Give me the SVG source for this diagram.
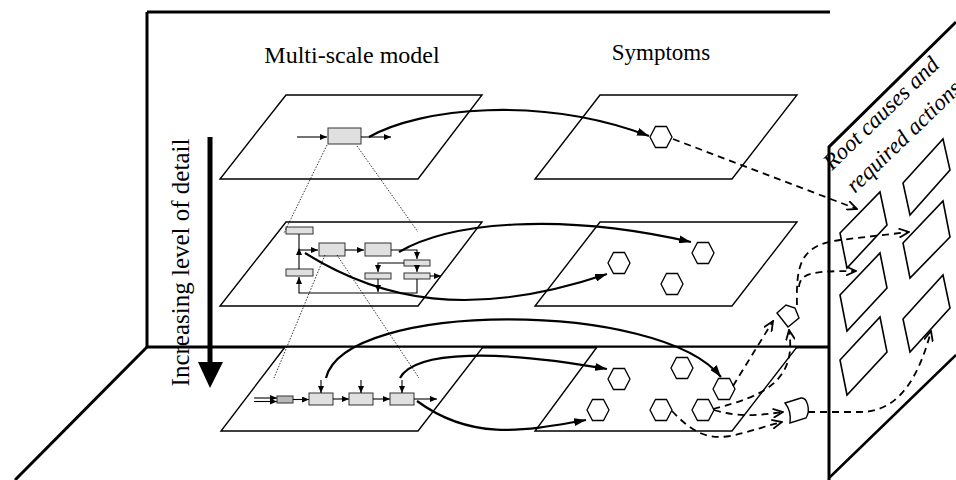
<svg xmlns="http://www.w3.org/2000/svg" width="956" height="480" viewBox="0 0 956 480">
<style>
.wall{fill:none;stroke:#000;stroke-width:3}
.plane{fill:#fff;stroke:#000;stroke-width:1.4}
.thk{fill:none;stroke:#000;stroke-width:2.2;marker-end:url(#ah)}
.ln{fill:none;stroke:#000;stroke-width:1.1}
.la{fill:none;stroke:#000;stroke-width:1.1;marker-end:url(#sa)}
.dot{fill:none;stroke:#000;stroke-width:0.8;stroke-dasharray:1.5,1.5}
.dsh{fill:none;stroke:#000;stroke-width:1.8;stroke-dasharray:7,5;marker-end:url(#oa)}
.box{fill:#e0e0e0;stroke:#333;stroke-width:1}
.box2{fill:#b8b8b8;stroke:#333;stroke-width:1}
.hex{fill:#fff;stroke:#000;stroke-width:1.3}
.rb{fill:#fff;stroke:#000;stroke-width:1.6}
.gate{fill:#fff;stroke:#000;stroke-width:1.4}
.t{font-family:"Liberation Serif","Times New Roman",serif;fill:#000}
</style>
<defs>
<marker id="ah" viewBox="0 0 12 8" refX="12" refY="4" markerWidth="12" markerHeight="8" markerUnits="userSpaceOnUse" orient="auto"><path d="M0,0 L12,4 L0,8 z" fill="#000"/></marker>
<marker id="sa" viewBox="0 0 7 6" refX="7" refY="3" markerWidth="7" markerHeight="6" markerUnits="userSpaceOnUse" orient="auto"><path d="M0,0 L7,3 L0,6 z" fill="#000"/></marker>
<marker id="oa" viewBox="0 0 12 10" refX="11" refY="5" markerWidth="12" markerHeight="10" markerUnits="userSpaceOnUse" orient="auto"><path d="M1,0.5 L11,5 L1,9.5" fill="none" stroke="#000" stroke-width="1.8"/></marker>
<path id="hx" d="M-11,0 L-5.5,-10.5 L5.5,-10.5 L11,0 L5.5,10.5 L-5.5,10.5 Z"/>
</defs>

<g id="frame">
<path class="wall" d="M147,12 L830,12"/>
<path class="wall" d="M147,12 L147,347 L829,347"/>
<path class="wall" d="M147,347 L15,480"/>
</g>

<g id="titles">
<text class="t" x="352" y="63" font-size="24" text-anchor="middle">Multi-scale model</text>
<text class="t" x="661" y="60" font-size="23" text-anchor="middle">Symptoms</text>
<text class="t" transform="translate(189,262.5) rotate(-90)" font-size="25" text-anchor="middle">Increasing level of detail</text>
</g>

<g id="detail-arrow">
<path d="M210,137 L210,364" stroke="#000" stroke-width="5"/>
<path d="M198,362 L223,362 L210,388 Z" fill="#000"/>
</g>

<g id="plane-model-top">
<path class="plane" d="M286,95 L482,95 L418,179 L220,179 Z"/>
<path class="la" d="M297,137 L327,137"/>
<rect class="box" x="328" y="128" width="33" height="16"/>
<path class="la" d="M361,137 L391,137"/>
</g>

<g id="plane-symptoms-top">
<path class="plane" d="M600,95 L797,95 L732,179 L535,179 Z"/>
<use href="#hx" class="hex" x="661" y="137"/>
</g>

<g id="plane-model-mid">
<path class="plane" d="M286,222 L482,222 L418,306 L220,306 Z"/>
<rect class="box" x="286" y="227" width="27" height="7"/>
<rect class="box" x="319" y="243" width="26" height="13"/>
<rect class="box" x="365" y="243" width="26" height="13"/>
<rect class="box" x="404" y="260" width="26" height="6"/>
<rect class="box" x="286" y="269" width="27" height="7"/>
<rect class="box" x="365" y="273" width="26" height="6"/>
<rect class="box" x="404" y="273" width="26" height="6"/>
<path class="la" d="M299,269 L299,248"/>
<path class="ln" d="M299,248 L299,234"/>
<path class="la" d="M299,250 L318,250"/>
<path class="la" d="M345,250 L364,250"/>
<path class="la" d="M391,250 L417,250 L417,259"/>
<path class="la" d="M417,266 L417,272"/>
<path class="la" d="M404,263 L378,263 L378,272"/>
<path class="la" d="M378,279 L378,292"/>
<path class="la" d="M417,279 L417,293 L299,293 L299,277"/>
<path class="la" d="M430,276 L441,276"/>
</g>

<g id="plane-symptoms-mid">
<path class="plane" d="M600,222 L797,222 L732,306 L535,306 Z"/>
<use href="#hx" class="hex" x="703" y="253"/>
<use href="#hx" class="hex" x="619" y="263"/>
<use href="#hx" class="hex" x="672" y="284"/>
</g>

<g id="plane-model-bottom">
<path class="plane" d="M285,347 L483,347 L418,431 L221,431 Z"/>
<path class="la" d="M254,398 L277,398"/>
<path class="la" d="M254,401.5 L277,401.5"/>
<rect class="box2" x="277" y="396" width="16" height="7"/>
<path class="la" d="M293,399.5 L309,399.5"/>
<rect class="box" x="309" y="393" width="24" height="12"/>
<path class="la" d="M333,399 L349,399"/>
<rect class="box" x="349" y="393" width="24" height="12"/>
<path class="la" d="M373,399 L390,399"/>
<rect class="box" x="390" y="393" width="24" height="12"/>
<path class="la" d="M414,399 L437,399"/>
<path class="la" d="M321,380 L321,393"/>
<path class="la" d="M361,380 L361,393"/>
<path class="la" d="M402,380 L402,393"/>
</g>

<g id="plane-symptoms-bottom">
<path class="plane" d="M597,347 L797,347 L732,431 L535,431 Z"/>
<use href="#hx" class="hex" x="619" y="379"/>
<use href="#hx" class="hex" x="682" y="368"/>
<use href="#hx" class="hex" x="724" y="389"/>
<use href="#hx" class="hex" x="598" y="410"/>
<use href="#hx" class="hex" x="661" y="410"/>
<use href="#hx" class="hex" x="703" y="410"/>
</g>

<g id="panel">
<path d="M829,147 L956,22 L956,355 L829,478 Z" fill="#fff" stroke="none"/>
<path class="wall" d="M829,480 L829,147 L956,22"/>
<path d="M829,478 L956,355" fill="none" stroke="#000" stroke-width="2.5"/>
<text class="t" transform="translate(832,171) rotate(-44)" font-size="23" font-style="italic">Root causes and</text>
<text class="t" transform="translate(855,194) rotate(-44)" font-size="23" font-style="italic">required actions</text>
</g>

<g id="root-causes">
<path class="rb" d="M840,233 L880,192 L887,225 L847,268 Z"/>
<path class="rb" d="M903,183 L943,139 L950,170 L910,215 Z"/>
<path class="rb" d="M840,295 L880,253 L887,288 L847,331 Z"/>
<path class="rb" d="M903,243 L943,201 L950,237 L910,278 Z"/>
<path class="rb" d="M840,360 L880,317 L887,352 L847,395 Z"/>
<path class="rb" d="M903,319 L943,275 L950,308 L910,352 Z"/>
</g>

<g id="gates">
<path class="gate" d="M777,313 L786,305 L795,308 L799,318 L788,327 Z"/>
<path class="gate" d="M785,403 L801,398 C807,397 811,410 806,418 L790,423 C791,416 789,408 785,403 Z"/>
</g>

<g id="connectors">
<path class="dot" d="M327,145 L284,233"/>
<path class="dot" d="M357,146 L418,232"/>
<path class="dot" d="M325,255 L274,378"/>
<path class="dot" d="M337,255 L419,378"/>
<path class="thk" d="M369,137 C420,108 540,95 649,136"/>
<path class="thk" d="M399,252 C450,222 560,212 691,242"/>
<path class="thk" d="M305,253 C380,300 470,320 607,274"/>
<path class="thk" d="M326,378 C345,300 660,300 721,377"/>
<path class="thk" d="M400,378 C415,350 500,350 607,369"/>
<path class="thk" d="M417,401 C470,440 520,432 586,420"/>
<path class="dsh" d="M673,139 L857,209"/>
<path class="dsh" d="M733,386 L773,321"/>
<path class="dsh" d="M713,409 C765,396 797,380 789,330"/>
<path class="dsh" d="M714,410 C740,418 760,415 783,412"/>
<path class="dsh" d="M672,411 C690,430 705,440 730,436 C750,432 765,426 782,422"/>
<path class="dsh" d="M808,412 L860,412 C890,412 915,392 931,331"/>
<path class="dsh" d="M797,305 C796,265 800,245 840,240 L909,232"/>
<path class="dsh" d="M799,287 C800,272 815,271 856,271"/>
</g>
</svg>
